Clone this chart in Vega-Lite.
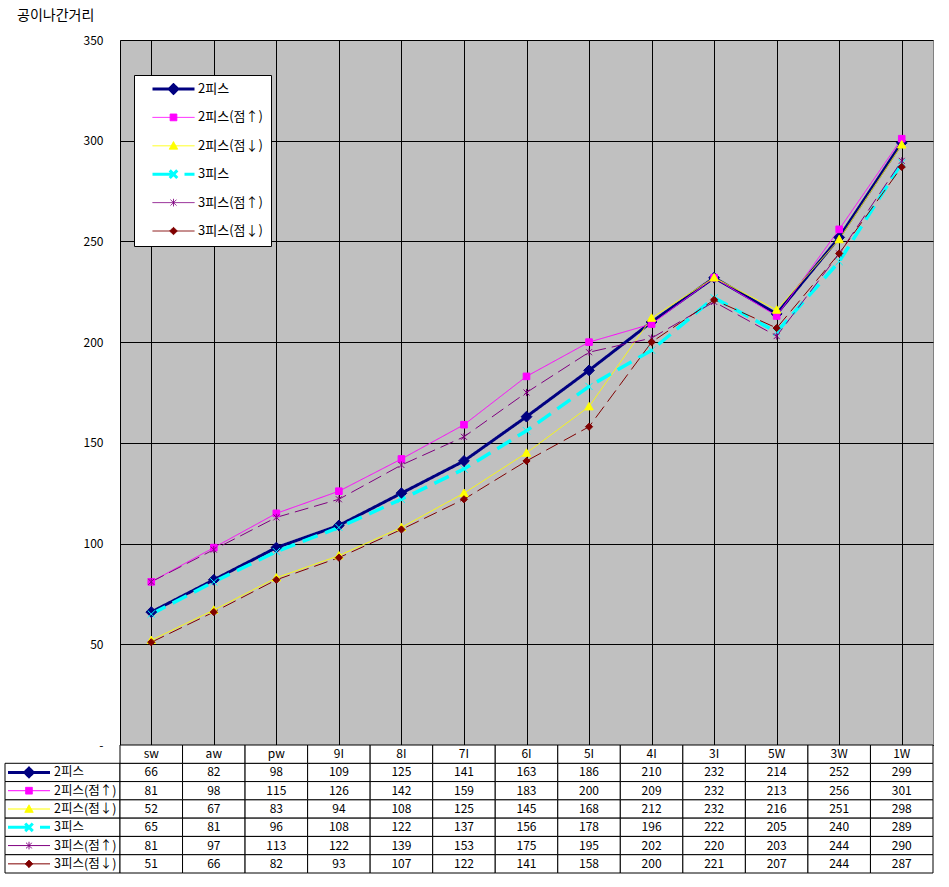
{
  "$schema": "https://vega.github.io/schema/vega-lite/v6.json",
  "padding": {"left": 2, "top": 8, "right": 0, "bottom": 0},
  "background": "white",
  "title": {"text": "공이나간거리", "anchor": "start", "dx": 15, "fontSize": 14, "fontWeight": "normal", "font": "Noto Sans CJK KR", "color": "black", "offset": 11},
  "config": {"font": "Noto Sans CJK KR", "view": {"stroke": null}},
  "columns": 2,
  "spacing": 0,
  "bounds": "flush",
  "resolve": {"scale": {"shape": "independent", "strokeDash": "independent", "strokeWidth": "independent"}},
  "datasets": {
    "d": [
      {"cat": "sw", "series": "2피스", "v": 66}, {"cat": "aw", "series": "2피스", "v": 82}, {"cat": "pw", "series": "2피스", "v": 98}, {"cat": "9I", "series": "2피스", "v": 109}, {"cat": "8I", "series": "2피스", "v": 125}, {"cat": "7I", "series": "2피스", "v": 141}, {"cat": "6I", "series": "2피스", "v": 163}, {"cat": "5I", "series": "2피스", "v": 186}, {"cat": "4I", "series": "2피스", "v": 210}, {"cat": "3I", "series": "2피스", "v": 232}, {"cat": "5W", "series": "2피스", "v": 214}, {"cat": "3W", "series": "2피스", "v": 252}, {"cat": "1W", "series": "2피스", "v": 299},
      {"cat": "sw", "series": "2피스(점↑)", "v": 81}, {"cat": "aw", "series": "2피스(점↑)", "v": 98}, {"cat": "pw", "series": "2피스(점↑)", "v": 115}, {"cat": "9I", "series": "2피스(점↑)", "v": 126}, {"cat": "8I", "series": "2피스(점↑)", "v": 142}, {"cat": "7I", "series": "2피스(점↑)", "v": 159}, {"cat": "6I", "series": "2피스(점↑)", "v": 183}, {"cat": "5I", "series": "2피스(점↑)", "v": 200}, {"cat": "4I", "series": "2피스(점↑)", "v": 209}, {"cat": "3I", "series": "2피스(점↑)", "v": 232}, {"cat": "5W", "series": "2피스(점↑)", "v": 213}, {"cat": "3W", "series": "2피스(점↑)", "v": 256}, {"cat": "1W", "series": "2피스(점↑)", "v": 301},
      {"cat": "sw", "series": "2피스(점↓)", "v": 52}, {"cat": "aw", "series": "2피스(점↓)", "v": 67}, {"cat": "pw", "series": "2피스(점↓)", "v": 83}, {"cat": "9I", "series": "2피스(점↓)", "v": 94}, {"cat": "8I", "series": "2피스(점↓)", "v": 108}, {"cat": "7I", "series": "2피스(점↓)", "v": 125}, {"cat": "6I", "series": "2피스(점↓)", "v": 145}, {"cat": "5I", "series": "2피스(점↓)", "v": 168}, {"cat": "4I", "series": "2피스(점↓)", "v": 212}, {"cat": "3I", "series": "2피스(점↓)", "v": 232}, {"cat": "5W", "series": "2피스(점↓)", "v": 216}, {"cat": "3W", "series": "2피스(점↓)", "v": 251}, {"cat": "1W", "series": "2피스(점↓)", "v": 298},
      {"cat": "sw", "series": "3피스", "v": 65}, {"cat": "aw", "series": "3피스", "v": 81}, {"cat": "pw", "series": "3피스", "v": 96}, {"cat": "9I", "series": "3피스", "v": 108}, {"cat": "8I", "series": "3피스", "v": 122}, {"cat": "7I", "series": "3피스", "v": 137}, {"cat": "6I", "series": "3피스", "v": 156}, {"cat": "5I", "series": "3피스", "v": 178}, {"cat": "4I", "series": "3피스", "v": 196}, {"cat": "3I", "series": "3피스", "v": 222}, {"cat": "5W", "series": "3피스", "v": 205}, {"cat": "3W", "series": "3피스", "v": 240}, {"cat": "1W", "series": "3피스", "v": 289},
      {"cat": "sw", "series": "3피스(점↑)", "v": 81}, {"cat": "aw", "series": "3피스(점↑)", "v": 97}, {"cat": "pw", "series": "3피스(점↑)", "v": 113}, {"cat": "9I", "series": "3피스(점↑)", "v": 122}, {"cat": "8I", "series": "3피스(점↑)", "v": 139}, {"cat": "7I", "series": "3피스(점↑)", "v": 153}, {"cat": "6I", "series": "3피스(점↑)", "v": 175}, {"cat": "5I", "series": "3피스(점↑)", "v": 195}, {"cat": "4I", "series": "3피스(점↑)", "v": 202}, {"cat": "3I", "series": "3피스(점↑)", "v": 220}, {"cat": "5W", "series": "3피스(점↑)", "v": 203}, {"cat": "3W", "series": "3피스(점↑)", "v": 244}, {"cat": "1W", "series": "3피스(점↑)", "v": 290},
      {"cat": "sw", "series": "3피스(점↓)", "v": 51}, {"cat": "aw", "series": "3피스(점↓)", "v": 66}, {"cat": "pw", "series": "3피스(점↓)", "v": 82}, {"cat": "9I", "series": "3피스(점↓)", "v": 93}, {"cat": "8I", "series": "3피스(점↓)", "v": 107}, {"cat": "7I", "series": "3피스(점↓)", "v": 122}, {"cat": "6I", "series": "3피스(점↓)", "v": 141}, {"cat": "5I", "series": "3피스(점↓)", "v": 158}, {"cat": "4I", "series": "3피스(점↓)", "v": 200}, {"cat": "3I", "series": "3피스(점↓)", "v": 221}, {"cat": "5W", "series": "3피스(점↓)", "v": 207}, {"cat": "3W", "series": "3피스(점↓)", "v": 244}, {"cat": "1W", "series": "3피스(점↓)", "v": 287}
    ]
  },
  "concat": [
    {
      "width": 115, "height": 705,
      "data": {"values": [{}]},
      "mark": {"type": "point", "opacity": 0}
    },
    {
      "width": 813, "height": 705,
      "data": {"name": "d"},
      "view": {"fill": "#C0C0C0", "stroke": "#808080"},
      "encoding": {
        "x": {"field": "cat", "type": "nominal", "sort": ["sw","aw","pw","9I","8I","7I","6I","5I","4I","3I","5W","3W","1W"], "scale": {"paddingInner": 0, "paddingOuter": 0},
          "axis": {"labels": false, "ticks": false, "title": null, "domainColor": "black", "grid": true, "gridColor": "black", "gridOpacity": 1, "bandPosition": 0}},
        "y": {"field": "v", "type": "quantitative", "scale": {"domain": [0, 350], "nice": false},
          "axis": {"values": [0,50,100,150,200,250,300,350], "title": null, "ticks": false, "labelPadding": 17, "labelFontSize": 12, "labelColor": "black", "labelFont": "Noto Sans CJK KR", "labelFlush": false, "labelExpr": "datum.value === 0 ? '-' : datum.label", "grid": true, "gridColor": "black", "gridOpacity": 1, "domainColor": "black"}}
      },
      "layer": [
        {
          "mark": {"type": "line"},
          "encoding": {
            "color": {"field": "series", "type": "nominal",
              "scale": {"domain": ["2피스","2피스(점↑)","2피스(점↓)","3피스","3피스(점↑)","3피스(점↓)"], "range": ["#000080","#FF00FF","#FFFF00","#00FFFF","#800080","#800000"]},
              "legend": {"orient": "none", "legendX": 129, "legendY": 35, "title": null, "fillColor": "white", "strokeColor": "black", "padding": 8,
                "symbolSize": 1764, "clipHeight": 12, "rowPadding": 15.4, "symbolOffset": 25, "labelOffset": 18,
                "labelFontSize": 13, "labelFont": "Noto Sans CJK KR", "labelColor": "black", "labelLimit": 200,
                "encode": {
                  "symbols": {"update": {
                    "size": {"value": 1764},
                    "shape": {"signal": "datum.value === '2피스' ? 'M-1,0H1M0,-0.2L0.2,0L0,0.2L-0.2,0Z' : datum.value === '2피스(점↑)' ? 'M-1,0H1M-0.16,-0.16H0.16V0.16H-0.16Z' : datum.value === '2피스(점↓)' ? 'M-1,0H1M0,-0.2L0.2,0.16H-0.2Z' : datum.value === '3피스' ? 'M-1,0H1M-0.18,-0.18L0.18,0.18M-0.18,0.18L0.18,-0.18' : datum.value === '3피스(점↑)' ? 'M-1,0H1M-0.14,-0.14L0.14,0.14M-0.14,0.14L0.14,-0.14M0,-0.18V0.18' : 'M-1,0H1M0,-0.18L0.18,0L0,0.18L-0.18,0Z'"},
                    "fill": {"scale": "color", "field": "value"},
                    "stroke": {"scale": "color", "field": "value"},
                    "strokeWidth": {"signal": "datum.value === '2피스' || datum.value === '3피스' ? 3 : 1"},
                    "strokeDash": {"signal": "datum.value === '3피스' ? [22,10] : [1,0]"},
                    "opacity": {"value": 1}
                  }}
                }
              }},
            "strokeWidth": {"field": "series", "type": "nominal", "scale": {"type": "ordinal", "domain": ["2피스","2피스(점↑)","2피스(점↓)","3피스","3피스(점↑)","3피스(점↓)"], "range": [3, 1, 1, 3.5, 1, 1]}, "legend": null},
            "strokeDash": {"field": "series", "type": "nominal", "scale": {"domain": ["2피스","2피스(점↑)","2피스(점↓)","3피스","3피스(점↑)","3피스(점↓)"], "range": [[1,0],[1,0],[1,0],[16,8],[14,6],[14,6]]}, "legend": null}
          }
        },
        {
          "mark": {"type": "point", "filled": true, "size": 144, "opacity": 1, "strokeWidth": 1},
          "encoding": {
            "shape": {"field": "series", "type": "nominal", "scale": {"domain": ["2피스","2피스(점↑)","2피스(점↓)","3피스","3피스(점↑)","3피스(점↓)"], "range": ["M0,-0.9L0.9,0L0,0.9L-0.9,0Z","M-0.55,-0.55H0.55V0.55H-0.55Z","M0,-0.7L0.7,0.55H-0.7Z","M-0.6,-0.6L0.6,0.6M-0.6,0.6L0.6,-0.6","M-0.5,-0.5L0.5,0.5M-0.5,0.5L0.5,-0.5M0,-0.6V0.6","M0,-0.6L0.6,0L0,0.6L-0.6,0Z"]}, "legend": null},
            "fill": {"field": "series", "type": "nominal", "scale": {"domain": ["2피스","2피스(점↑)","2피스(점↓)","3피스","3피스(점↑)","3피스(점↓)"], "range": ["#000080","#FF00FF","#FFFF00","#00FFFF","#800080","#800000"]}, "legend": null},
            "stroke": {"field": "series", "type": "nominal", "scale": {"domain": ["2피스","2피스(점↑)","2피스(점↓)","3피스","3피스(점↑)","3피스(점↓)"], "range": ["#000080","#FF00FF","#FFFF00","#00FFFF","#800080","#800000"]}, "legend": null}
          }
        }
      ]
    },
    {
      "width": 115, "height": 128,
      "data": {"name": "d"},
      "transform": [{"filter": "datum.cat === 'sw'"}],
      "encoding": {
        "y": {"field": "series", "type": "nominal", "scale": {"domain": ["_h","2피스","2피스(점↑)","2피스(점↓)","3피스","3피스(점↑)","3피스(점↓)"], "paddingInner": 0, "paddingOuter": 0}, "axis": null}
      },
      "layer": [
        {"mark": {"type": "rect", "fill": "white", "stroke": "black", "strokeWidth": 1}},
        {
          "mark": {"type": "point", "filled": true, "size": 1764, "opacity": 1},
          "encoding": {
            "x": {"datum": 24, "type": "quantitative", "scale": {"domain": [0, 115], "nice": false}, "axis": null},
            "shape": {"field": "series", "type": "nominal", "scale": {"domain": ["2피스","2피스(점↑)","2피스(점↓)","3피스","3피스(점↑)","3피스(점↓)"], "range": ["M-1,0H1M0,-0.2L0.2,0L0,0.2L-0.2,0Z","M-1,0H1M-0.16,-0.16H0.16V0.16H-0.16Z","M-1,0H1M0,-0.2L0.2,0.16H-0.2Z","M-1,0H1M-0.18,-0.18L0.18,0.18M-0.18,0.18L0.18,-0.18","M-1,0H1M-0.14,-0.14L0.14,0.14M-0.14,0.14L0.14,-0.14M0,-0.18V0.18","M-1,0H1M0,-0.18L0.18,0L0,0.18L-0.18,0Z"]}, "legend": null},
            "fill": {"field": "series", "type": "nominal", "scale": {"domain": ["2피스","2피스(점↑)","2피스(점↓)","3피스","3피스(점↑)","3피스(점↓)"], "range": ["#000080","#FF00FF","#FFFF00","#00FFFF","#800080","#800000"]}, "legend": null},
            "stroke": {"field": "series", "type": "nominal", "scale": {"domain": ["2피스","2피스(점↑)","2피스(점↓)","3피스","3피스(점↑)","3피스(점↓)"], "range": ["#000080","#FF00FF","#FFFF00","#00FFFF","#800080","#800000"]}, "legend": null},
            "strokeWidth": {"field": "series", "type": "nominal", "scale": {"type": "ordinal", "domain": ["2피스","2피스(점↑)","2피스(점↓)","3피스","3피스(점↑)","3피스(점↓)"], "range": [3, 1, 1, 3, 1, 1]}, "legend": null},
            "strokeDash": {"field": "series", "type": "nominal", "scale": {"domain": ["2피스","2피스(점↑)","2피스(점↓)","3피스","3피스(점↑)","3피스(점↓)"], "range": [[1,0],[1,0],[1,0],[22,10],[1,0],[1,0]]}, "legend": null}
          }
        },
        {
          "mark": {"type": "text", "align": "left", "baseline": "middle", "fontSize": 12.5, "font": "Noto Sans CJK KR", "color": "black"},
          "encoding": {
            "x": {"datum": 49, "type": "quantitative"},
            "text": {"field": "series"}
          }
        }
      ]
    },
    {
      "width": 813, "height": 128,
      "data": {"name": "d"},
      "encoding": {
        "x": {"field": "cat", "type": "nominal", "sort": ["sw","aw","pw","9I","8I","7I","6I","5I","4I","3I","5W","3W","1W"], "scale": {"paddingInner": 0, "paddingOuter": 0}, "axis": null}
      },
      "layer": [
        {
          "mark": {"type": "rect", "fill": "white", "stroke": "black", "strokeWidth": 1},
          "encoding": {"y": {"field": "series", "type": "nominal", "scale": {"domain": ["_h","2피스","2피스(점↑)","2피스(점↓)","3피스","3피스(점↑)","3피스(점↓)"], "paddingInner": 0, "paddingOuter": 0}, "axis": null}}
        },
        {
          "mark": {"type": "text", "fontSize": 12, "font": "Noto Sans CJK KR", "color": "black", "baseline": "middle"},
          "encoding": {"y": {"field": "series", "type": "nominal"}, "text": {"field": "v", "type": "quantitative"}}
        },
        {
          "transform": [{"filter": "datum.series === '2피스'"}],
          "mark": {"type": "rect", "fill": "white", "stroke": "black", "strokeWidth": 1},
          "encoding": {"y": {"datum": "_h", "type": "nominal"}}
        },
        {
          "transform": [{"filter": "datum.series === '2피스'"}],
          "mark": {"type": "text", "fontSize": 12, "font": "Noto Sans CJK KR", "color": "black", "baseline": "middle"},
          "encoding": {"y": {"datum": "_h", "type": "nominal"}, "text": {"field": "cat"}}
        }
      ]
    }
  ]
}
